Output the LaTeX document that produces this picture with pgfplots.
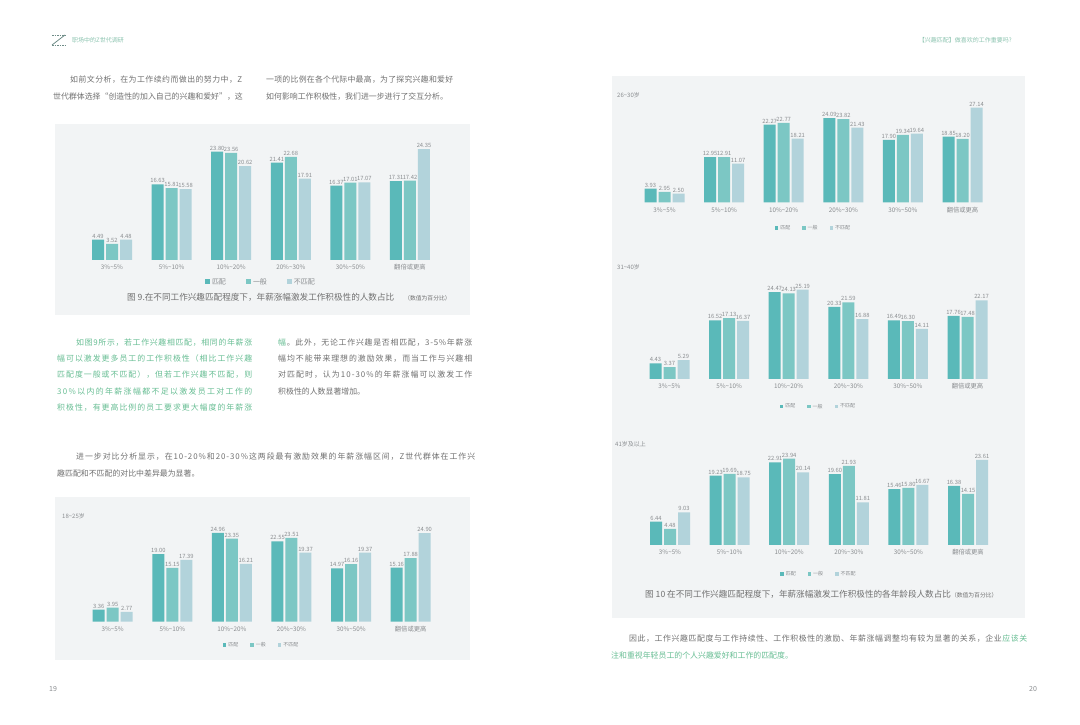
\documentclass[border=0pt]{standalone}
\usepackage{fontspec}
\setmainfont{Noto Sans CJK SC}
\usepackage{pgfplots}
\pgfplotsset{compat=1.18}

\definecolor{cA}{RGB}{90,185,185}
\definecolor{cB}{RGB}{124,199,196}
\definecolor{cC}{RGB}{178,211,219}
\definecolor{boxbg}{RGB}{242,244,245}
\definecolor{txt}{RGB}{112,112,112}
\definecolor{lbl}{RGB}{138,141,144}
\definecolor{grn}{RGB}{104,190,148}
\definecolor{hdr}{RGB}{140,196,176}
\definecolor{logo}{RGB}{110,140,135}

\newcommand{\fs}[1]{\fontsize{#1}{#1}\selectfont}
% put stretchable glue between characters so a line can be justified
\makeatletter
\def\spread#1{\spread@#1\spread@end\unskip}
\def\spread@#1{\ifx#1\spread@end\else#1\hskip0pt plus 1pt\expandafter\spread@\fi}
\makeatother
\newcommand{\gl}{\hskip0pt plus 1pt}
% one justified line: x, y, width, colour, text
\newcommand{\jl}[5]{\node[anchor=west,inner sep=0pt,text=#4] at (#1pt,#2pt) {\fs{7.9}\makebox[#3pt][s]{\spread{#5}}};}
\newcommand{\nl}[4]{\node[anchor=west,inner sep=0pt,text=#3] at (#1pt,#2pt) {\fs{7.9}#4};}

\pgfplotsset{
  salary/.style={
    scale only axis, width=357.6pt,
    xmin=-0.5, xmax=5.5, ymin=0,
    axis x line*=bottom, axis y line=none,
    axis line style={draw=none},
    major tick length=0pt,
    xtick={0,...,5},
    xticklabels={3\%\textasciitilde5\%,5\%\textasciitilde10\%,10\%\textasciitilde20\%,20\%\textasciitilde30\%,30\%\textasciitilde50\%,翻倍或更高},
    xticklabel style={font=\fs{6.3}, text=lbl, anchor=center, yshift=-7.5pt},
    ybar=2pt, bar width=12pt,
    nodes near coords={\pgfmathprintnumber[fixed,fixed zerofill,precision=2,assume math mode=true]{\pgfplotspointmeta}},
    every node near coord/.append style={font=\fs{5.8}, text=lbl, inner sep=1.2pt},
    legend columns=3,
    clip=false,
  },
  smallleg/.style={
    legend style={at={(0.5,#1)}, anchor=center, draw=none, fill=none,
      font=\fs{5}, text=lbl, /tikz/every even column/.append style={column sep=10pt}},
    every axis plot post/.append style={legend image code/.code={\fill[##1] (0pt,-1.7pt) rectangle (3.4pt,1.7pt);}},
  },
  bigleg/.style={
    legend style={at={(0.5,#1)}, anchor=center, draw=none, fill=none,
      font=\fs{7}, text=lbl, /tikz/every even column/.append style={column sep=18pt}},
    every axis plot post/.append style={legend image code/.code={\fill[##1] (0pt,-2.5pt) rectangle (5pt,2.5pt);}},
  },
}

\begin{document}
\begin{tikzpicture}
\path[fill=white, use as bounding box] (0,0) rectangle (1080pt,725pt);

% boxes
\fill[boxbg] (55pt,410pt) rectangle (470pt,601pt);
\fill[boxbg] (55pt,65pt) rectangle (470pt,228pt);
\fill[boxbg] (612pt,107pt) rectangle (1025pt,649pt);

% header
\draw[logo, line width=0.8pt, dash pattern=on 1.5pt off 1pt] (52pt,690pt) -- (65pt,690pt);
\draw[logo, line width=0.8pt] (65pt,690pt) -- (52pt,680pt);
\draw[logo, line width=0.8pt, dash pattern=on 1.5pt off 1pt] (52pt,680pt) -- (65pt,680pt);
\node[anchor=west, inner sep=0pt, text=hdr] at (72pt,685pt) {\fs{6}职场中的Z世代调研};
\node[anchor=east, inner sep=0pt, text=hdr] at (1012pt,685pt) {\fs{6}【兴趣匹配】做喜欢的工作重要吗?};

% left page text
\jl{70}{645}{172}{txt}{如前文分析，在为工作续约而做出的努力中，Z}
\jl{53}{628}{189}{txt}{世代群体选择“创造性的加入自己的兴趣和爱好”，这}
\jl{266}{645}{187}{txt}{一项的比例在各个代际中最高，为了探究兴趣和爱好}
\nl{266}{628}{txt}{如何影响工作积极性，我们进一步进行了交互分析。}

\jl{76}{382}{176}{grn}{如图9所示，若工作兴趣相匹配，相同的年薪涨}
\jl{57}{366}{195}{grn}{幅可以激发更多员工的工作积极性（相比工作兴趣}
\jl{57}{350}{195}{grn}{匹配度一般或不匹配），但若工作兴趣不匹配，则}
\jl{57}{333}{195}{grn}{30\%以内的年薪涨幅都不足以激发员工对工作的}
\jl{57}{317}{195}{grn}{积极性，有更高比例的员工要求更大幅度的年薪涨}
\node[anchor=west,inner sep=0pt,text=txt] at (278pt,382pt) {\fs{7.9}\makebox[194pt][s]{\textcolor{grn}{幅}\gl\spread{。此外，无论工作兴趣是否相匹配，3-5\%年薪涨}}};
\jl{278}{366}{194}{txt}{幅均不能带来理想的激励效果，而当工作与兴趣相}
\jl{278}{350}{194}{txt}{对匹配时，认为10-30\%的年薪涨幅可以激发工作}
\nl{278}{333}{txt}{积极性的人数显著增加。}

\jl{76}{268}{399}{txt}{进一步对比分析显示，在10-20\%和20-30\%这两段最有激励效果的年薪涨幅区间，Z世代群体在工作兴}
\nl{57}{251}{txt}{趣匹配和不匹配的对比中差异最为显著。}

% right page text
\node[anchor=west,inner sep=0pt,text=txt] at (629pt,86pt) {\fs{7.9}\makebox[398pt][s]{\spread{因此，工作兴趣匹配度与工作持续性、工作积极性的激励、年薪涨幅调整均有较为显著的关系，企业}\gl\textcolor{grn}{\spread{应该关}}}};
\nl{611}{70}{grn}{注和重视年轻员工的个人兴趣爱好和工作的匹配度。}

% captions, chart titles, page numbers
\node[anchor=west,inner sep=0pt,text=txt] at (127pt,428pt) {\fs{8.6}图 9.在不同工作兴趣匹配程度下，年薪涨幅激发工作积极性的人数占比\hspace{10pt}\fs{5.8}（数值为百分比）};
\node[anchor=west,inner sep=0pt,text=txt] at (645pt,131pt) {\fs{8.6}图 10 在不同工作兴趣匹配程度下，年薪涨幅激发工作积极性的各年龄段人数占比\fs{5.8}（数值为百分比）};
\node[anchor=west,inner sep=0pt,text=lbl] at (62pt,209pt) {\fs{6}18\textasciitilde25岁};
\node[anchor=west,inner sep=0pt,text=lbl] at (617pt,630pt) {\fs{6}26\textasciitilde30岁};
\node[anchor=west,inner sep=0pt,text=lbl] at (617pt,458pt) {\fs{6}31\textasciitilde40岁};
\node[anchor=west,inner sep=0pt,text=lbl] at (615pt,281pt) {\fs{6}41岁及以上};
\node[anchor=west,inner sep=0pt,text=lbl] at (49pt,36pt) {\fs{7}19};
\node[anchor=west,inner sep=0pt,text=lbl] at (1029pt,36pt) {\fs{7}20};

% Figure 9
\begin{axis}[salary, bigleg=-0.186, at={(82.2pt,465pt)}, anchor=south west, ymax=26, height=118.3pt]
\addplot[fill=cA, draw=none] coordinates {(0,4.49) (1,16.63) (2,23.80) (3,21.41) (4,16.37) (5,17.31)};
\addplot[fill=cB, draw=none] coordinates {(0,3.52) (1,15.81) (2,23.56) (3,22.68) (4,17.01) (5,17.42)};
\addplot[fill=cC, draw=none] coordinates {(0,4.48) (1,15.58) (2,20.62) (3,17.91) (4,17.07) (5,24.35)};
\legend{匹配,一般,不匹配}
\end{axis}

% 18-25
\begin{axis}[salary, smallleg=-0.252, at={(82.9pt,103.3pt)}, anchor=south west, ymax=26, height=92.56pt]
\addplot[fill=cA, draw=none] coordinates {(0,3.36) (1,19.00) (2,24.96) (3,22.55) (4,14.97) (5,15.16)};
\addplot[fill=cB, draw=none] coordinates {(0,3.95) (1,15.15) (2,23.35) (3,23.51) (4,16.16) (5,17.88)};
\addplot[fill=cC, draw=none] coordinates {(0,2.77) (1,17.39) (2,16.21) (3,19.37) (4,19.37) (5,24.90)};
\legend{匹配,一般,不匹配}
\end{axis}

% 26-30
\begin{axis}[salary, smallleg=-0.263, at={(634.7pt,522.7pt)}, anchor=south west, ymax=28, height=97.72pt]
\addplot[fill=cA, draw=none] coordinates {(0,3.93) (1,12.95) (2,22.27) (3,24.09) (4,17.90) (5,18.85)};
\addplot[fill=cB, draw=none] coordinates {(0,2.95) (1,12.91) (2,22.77) (3,23.82) (4,19.34) (5,18.20)};
\addplot[fill=cC, draw=none] coordinates {(0,2.50) (1,11.07) (2,18.21) (3,21.43) (4,19.64) (5,27.14)};
\legend{匹配,一般,不匹配}
\end{axis}

% 31-40
\begin{axis}[salary, smallleg=-0.30, at={(639.7pt,346pt)}, anchor=south west, ymax=26, height=92.3pt]
\addplot[fill=cA, draw=none] coordinates {(0,4.43) (1,16.52) (2,24.47) (3,20.33) (4,16.49) (5,17.76)};
\addplot[fill=cB, draw=none] coordinates {(0,3.37) (1,17.13) (2,24.13) (3,21.59) (4,16.30) (5,17.48)};
\addplot[fill=cC, draw=none] coordinates {(0,5.29) (1,16.37) (2,25.19) (3,16.88) (4,14.11) (5,22.17)};
\legend{匹配,一般,不匹配}
\end{axis}

% 41+
\begin{axis}[salary, smallleg=-0.321, at={(640.2pt,180pt)}, anchor=south west, ymax=25, height=90.25pt]
\addplot[fill=cA, draw=none] coordinates {(0,6.44) (1,19.23) (2,22.91) (3,19.60) (4,15.46) (5,16.38)};
\addplot[fill=cB, draw=none] coordinates {(0,4.48) (1,19.69) (2,23.94) (3,21.93) (4,15.80) (5,14.15)};
\addplot[fill=cC, draw=none] coordinates {(0,9.03) (1,18.75) (2,20.14) (3,11.81) (4,16.67) (5,23.61)};
\legend{匹配,一般,不匹配}
\end{axis}
\end{tikzpicture}
\end{document}
